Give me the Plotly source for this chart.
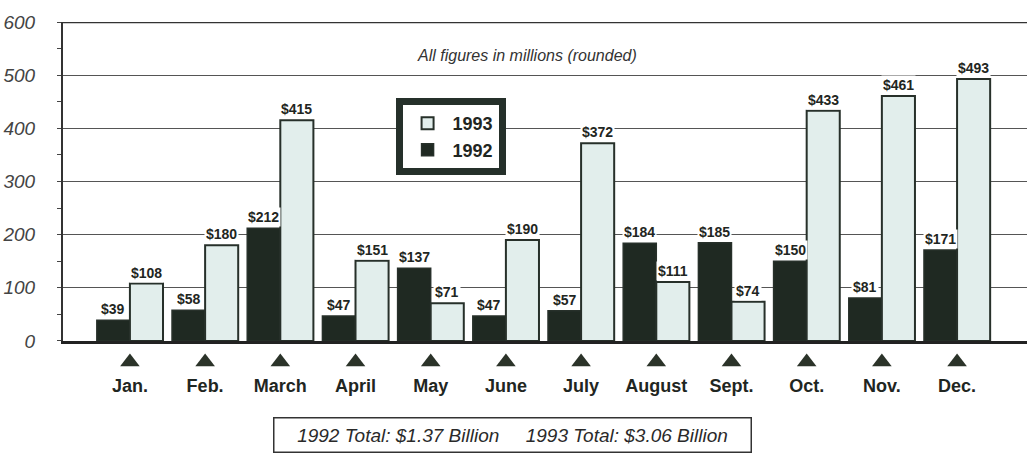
import plotly.graph_objects as go

months = ["Jan.", "Feb.", "March", "April", "May", "June", "July",
          "August", "Sept.", "Oct.", "Nov.", "Dec."]
sales_1992 = [39, 58, 212, 47, 137, 47, 57, 184, 185, 150, 81, 171]
sales_1993 = [108, 180, 415, 151, 71, 190, 372, 111, 74, 433, 461, 493]
y_ticks = [0, 100, 200, 300, 400, 500, 600]
note_text = "All figures in millions (rounded)"
totals_text = "1992 Total: $1.37 Billion     1993 Total: $3.06 Billion"

DARK = "#1f2922"
LIGHT = "#e2eeec"
EDGE = "#27302a"
SANS = "Liberation Sans, Arial, sans-serif"
TXT = "#1f2622"

xs = list(range(len(months)))
MAIN_BOTTOM = 0.2667  # main plot domain start (paper fraction)
MARKER_LEVEL = [0.819] * len(xs)

fig = go.Figure()
fig.add_trace(go.Bar(x=xs, y=sales_1992, name="1992",
                     marker=dict(color=DARK, line=dict(color=EDGE, width=1.5))))
fig.add_trace(go.Bar(x=xs, y=sales_1993, name="1993",
                     marker=dict(color=LIGHT, line=dict(color=EDGE, width=2))))
# month markers (triangles) on a hidden strip below the plot
fig.add_trace(go.Scatter(x=xs, y=MARKER_LEVEL, mode="markers", xaxis="x2", yaxis="y2",
                         marker=dict(symbol="triangle-up", size=17, color="#2b3329",
                                     line=dict(width=0)),
                         showlegend=False, hoverinfo="skip"))

ann = []
for i, (a, b) in enumerate(zip(sales_1992, sales_1993)):
    for off, v in ((-0.22, a), (0.22, b)):
        ann.append(dict(x=i + off, y=v, xref="x", yref="y", text=f"${v}",
                        showarrow=False, yanchor="bottom", yshift=1,
                        bgcolor="white", borderpad=1,
                        font=dict(family=SANS, size=14, color=TXT, weight="bold")))
ann.append(dict(x=0.481, y=0.922, xref="paper", yref="paper", text=note_text,
                xanchor="center", yanchor="middle", showarrow=False,
                font=dict(family=SANS, size=16, color="#333", style="italic")))
ann.append(dict(x=0.4663, y=0.0517, xref="paper", yref="paper", text=totals_text,
                xanchor="center", yanchor="middle",
                showarrow=False, bordercolor="#333", borderwidth=1.5, borderpad=7,
                bgcolor="white", width=462, height=19,
                font=dict(family=SANS, size=19, color="#2a2a2a", style="italic")))

fig.update_layout(
    width=1027, height=457,
    margin=dict(l=63, r=0, t=22, b=0, autoexpand=False),
    paper_bgcolor="white", plot_bgcolor="white",
    barmode="group", bargap=0.12, bargroupgap=0,
    annotations=ann,
    shapes=[dict(type="line", xref="x domain", yref="y", x0=0, x1=1, y0=600, y1=600,
                 line=dict(color="#333", width=2.5))],
    legend=dict(x=0.345, y=0.825, xanchor="left", yanchor="top",
                traceorder="reversed", bordercolor="#25302a", borderwidth=7,
                bgcolor="white",
                font=dict(family=SANS, size=18, color=TXT, weight="bold"),
                itemwidth=40, tracegroupgap=0),
    xaxis=dict(range=[-0.89, 11.93], tickvals=xs, ticktext=months,
               showgrid=False, showline=True, linecolor="#222", linewidth=3,
               ticks="", ticklabelstandoff=26, anchor="y", automargin=False,
               tickfont=dict(family=SANS, size=18, color=TXT, weight="bold"),
               zeroline=False),
    yaxis=dict(range=[0, 600], domain=[MAIN_BOTTOM, 1], tickvals=y_ticks,
               showgrid=True, gridcolor="#555", automargin=False,
               gridwidth=1, showline=True, linecolor="#333", linewidth=2,
               ticks="outside", ticklen=4, tickcolor="#444",
               minor=dict(dtick=50, ticks="outside", ticklen=4, tickcolor="#444", showgrid=False),
               ticklabelstandoff=18, zeroline=False,
               tickfont=dict(family=SANS, size=19, color="#444", style="italic")),
    xaxis2=dict(matches="x", anchor="y2", visible=False, automargin=False),
    yaxis2=dict(range=[0, 1], domain=[0, MAIN_BOTTOM], visible=False, automargin=False),
)

fig.write_html("out.html",
               config={"displayModeBar": False},
               post_script="document.body.style.margin='0';document.body.style.padding='0';")
